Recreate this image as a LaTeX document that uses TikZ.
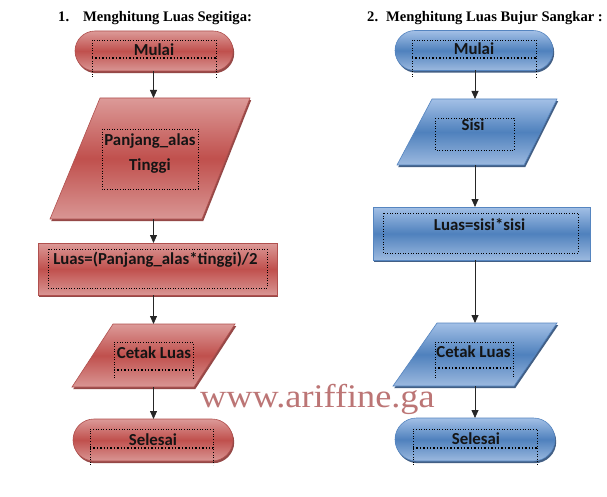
\documentclass[tikz,border=0pt]{standalone}
\usepackage{fontspec}
\usepackage{graphicx}
\setmainfont{Liberation Serif}
\newfontfamily\calibri{Carlito}
\usetikzlibrary{shapes.misc,shadows,arrows.meta}

\definecolor{rtop}{HTML}{DC9A98}
\definecolor{rmid}{HTML}{C0504D}
\definecolor{rbot}{HTML}{D99694}
\definecolor{rline}{HTML}{B0504E}
\definecolor{rshadow}{HTML}{8A3533}
\definecolor{btop}{HTML}{A3C0E6}
\definecolor{bmid}{HTML}{4F81BD}
\definecolor{bbot}{HTML}{9CB9DF}
\definecolor{bline}{HTML}{5585C0}
\definecolor{bshadow}{HTML}{2E4E78}
\definecolor{wm}{HTML}{BC7575}

\begin{document}
\begin{tikzpicture}[x=1pt,y=-1pt,
  redfill/.style={top color=rtop,bottom color=rbot,middle color=rmid,draw=rline,line width=0.6pt,
     drop shadow={shadow xshift=1.2pt,shadow yshift=-2.2pt,fill=rshadow,opacity=0.9}},
  bluefill/.style={top color=btop,bottom color=bbot,middle color=bmid,draw=bline,line width=0.6pt,
     drop shadow={shadow xshift=1.2pt,shadow yshift=-2.2pt,fill=bshadow,opacity=0.9}},
  terminal/.style={rounded rectangle,inner sep=0pt,outer sep=0pt},
  area/.style={rectangle,inner sep=0pt,outer sep=0pt},
  procbox/.style={rectangle,inner sep=0pt,outer sep=0pt},
  lbl/.style={font=\calibri\bfseries\fontsize{16.8}{20}\selectfont,text=black!92,inner sep=0pt,anchor=base},
  ttl/.style={font=\bfseries\fontsize{14.6}{18}\selectfont,inner sep=0pt,anchor=base west},
  arr/.style={draw=black!85,line width=0.8pt,-{Triangle[length=8pt,width=7pt]}},
  dotbox/.style={draw=black,dotted,line width=0.6pt},
  dotband/.style={draw=black,dotted,line width=1.4pt}
]
\fill[white] (0,0) rectangle (607,497);
\useasboundingbox (0,0) rectangle (607,497);

% titles
\node[ttl] (n1) at (58,22) {1.};
\node[ttl] (title1) at (83,22) {Menghitung Luas Segitiga:};
\node[ttl] (n2) at (367,22) {2.};
\node[ttl] (title2) at (386,22) {Menghitung Luas Bujur Sangkar :};

\coordinate (cl) at (153.5,0);
\coordinate (cr) at (475,0);

% ---------- left flowchart ----------
\node[terminal,redfill,minimum width=158pt,minimum height=40pt] (mulai1) at (154,51) {};
\path[redfill] (100,98) -- (250,98) -- (202,219) -- (50,219) -- cycle;
\node[area,minimum width=200pt,minimum height=121pt] (in1) at (150,158.5) {};
\node[procbox,redfill,minimum width=239pt,minimum height=52pt] (proc1) at (157.5,269) {};
\path[redfill] (113,324) -- (235,324) -- (194,387) -- (72,387) -- cycle;
\node[area,minimum width=163pt,minimum height=63pt] (out1) at (153.5,355.5) {};
\node[terminal,redfill,minimum width=160pt,minimum height=42pt] (end1) at (153,440) {};

% dotted text frames
\draw[dotbox] (92,77) -- (92,40) -- (216,40) -- (216,77);
\draw[dotband] (92,58) -- (216,58);
\draw[dotbox] (102,129) rectangle (198,189);
\draw[dotbox] (48,249) rectangle (267,288);
\draw[dotbox] (114,378) -- (114,342) -- (193,342) -- (193,378);
\draw[dotband] (114,370) -- (193,370);
\draw[dotbox] (90,465) -- (90,429) -- (213,429) -- (213,465);
\draw[dotband] (90,448) -- (213,448);

\node[lbl] (tm1) at (154,55.5) {Mulai};
\node[lbl] (tp1) at (150,145.5) {Panjang\_alas};
\node[lbl] (tt1) at (150,170.5) {Tinggi};
\node[lbl] (tl1) at (155.5,264) {Luas=(Panjang\_alas*tinggi)/2};
\node[lbl] (tc1) at (154,358) {Cetak Luas};
\node[lbl] (ts1) at (153,445) {Selesai};

\draw[arr] (mulai1.south -| cl) -- (in1.north -| cl);
\draw[arr] (in1.south -| cl) -- (proc1.north -| cl);
\draw[arr] (proc1.south -| cl) -- (out1.north -| cl);
\draw[arr] (out1.south -| cl) -- (end1.north -| cl);

% ---------- right flowchart ----------
\node[terminal,bluefill,minimum width=158pt,minimum height=40pt] (mulai2) at (474,50.5) {};
\path[bluefill] (432,99) -- (557,99) -- (524,165) -- (397,165) -- cycle;
\node[area,minimum width=160pt,minimum height=66pt] (in2) at (477,132) {};
\node[procbox,bluefill,minimum width=217pt,minimum height=53pt] (proc2) at (481.5,233.5) {};
\path[bluefill] (437,323) -- (557,323) -- (514,386) -- (393,386) -- cycle;
\node[area,minimum width=164pt,minimum height=63pt] (out2) at (475,354.5) {};
\node[terminal,bluefill,minimum width=160pt,minimum height=43pt] (end2) at (475,439.5) {};

\draw[dotbox] (412,77) -- (412,40) -- (536,40) -- (536,77);
\draw[dotband] (412,58) -- (536,58);
\draw[dotbox] (435,118) rectangle (514,150);
\draw[dotbox] (383,213) rectangle (578,253);
\draw[dotbox] (435,378) -- (435,342) -- (513,342) -- (513,378);
\draw[dotband] (435,368) -- (513,368);
\draw[dotbox] (413,465) -- (413,429) -- (537,429) -- (537,465);
\draw[dotband] (413,448) -- (537,448);

\node[lbl] (tm2) at (474,55) {Mulai};
\node[lbl] (tsi2) at (473,131) {Sisi};
\node[lbl] (tl2) at (479.5,230) {Luas=sisi*sisi};
\node[lbl] (tc2) at (473.5,357) {Cetak Luas};
\node[lbl] (ts2) at (476,444) {Selesai};

\draw[arr] (mulai2.south -| cr) -- (in2.north -| cr);
\draw[arr] (in2.south -| cr) -- (proc2.north -| cr);
\draw[arr] (proc2.south -| cr) -- (out2.north -| cr);
\draw[arr] (out2.south -| cr) -- (end2.north -| cr);

% watermark
\node[inner sep=0pt,anchor=base west,text=wm,font=\fontsize{33}{36}\selectfont] (wmark) at (200,407) {\scalebox{1.098}[1]{www.ariffine.ga}};
\end{tikzpicture}
\end{document}
